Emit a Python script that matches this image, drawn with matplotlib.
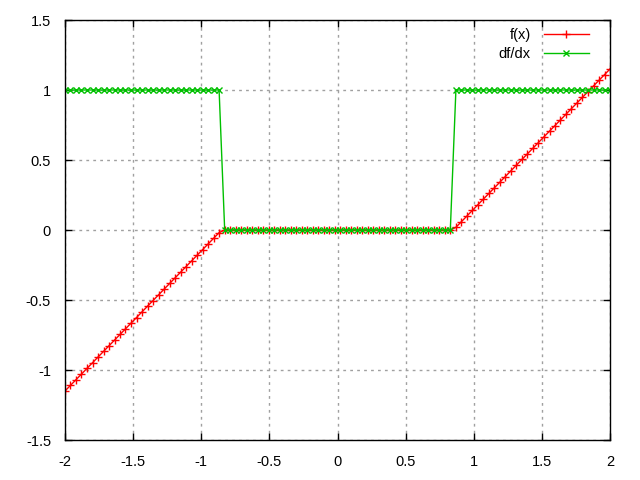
import matplotlib
matplotlib.use("Agg")
import matplotlib.pyplot as plt

x = [-2.000, -1.960, -1.919, -1.879, -1.838, -1.798, -1.758, -1.717, -1.677, -1.636,
     -1.596, -1.556, -1.515, -1.475, -1.434, -1.394, -1.354, -1.313, -1.273, -1.232,
     -1.192, -1.152, -1.111, -1.071, -1.030, -0.990, -0.949, -0.909, -0.869, -0.828,
     -0.788, -0.747, -0.707, -0.667, -0.626, -0.586, -0.545, -0.505, -0.465, -0.424,
     -0.384, -0.343, -0.303, -0.263, -0.222, -0.182, -0.141, -0.101, -0.061, -0.020,
     0.020, 0.061, 0.101, 0.141, 0.182, 0.222, 0.263, 0.303, 0.343, 0.384,
     0.424, 0.465, 0.505, 0.545, 0.586, 0.626, 0.667, 0.707, 0.747, 0.788,
     0.828, 0.869, 0.909, 0.949, 0.990, 1.030, 1.071, 1.111, 1.152, 1.192,
     1.232, 1.273, 1.313, 1.354, 1.394, 1.434, 1.475, 1.515, 1.556, 1.596,
     1.636, 1.677, 1.717, 1.758, 1.798, 1.838, 1.879, 1.919, 1.960, 2.000]

f = [-1.150, -1.110, -1.069, -1.029, -0.988, -0.948, -0.908, -0.867, -0.827, -0.786,
     -0.746, -0.706, -0.665, -0.625, -0.584, -0.544, -0.504, -0.463, -0.423, -0.382,
     -0.342, -0.302, -0.261, -0.221, -0.180, -0.140, -0.099, -0.059, -0.019, 0.0,
     0.0, 0.0, 0.0, 0.0, 0.0, 0.0, 0.0, 0.0, 0.0, 0.0,
     0.0, 0.0, 0.0, 0.0, 0.0, 0.0, 0.0, 0.0, 0.0, 0.0,
     0.0, 0.0, 0.0, 0.0, 0.0, 0.0, 0.0, 0.0, 0.0, 0.0,
     0.0, 0.0, 0.0, 0.0, 0.0, 0.0, 0.0, 0.0, 0.0, 0.0,
     0.0, 0.019, 0.059, 0.099, 0.140, 0.180, 0.221, 0.261, 0.302, 0.342,
     0.382, 0.423, 0.463, 0.504, 0.544, 0.584, 0.625, 0.665, 0.706, 0.746,
     0.786, 0.827, 0.867, 0.908, 0.948, 0.988, 1.029, 1.069, 1.110, 1.150]

dfdx = [1, 1, 1, 1, 1, 1, 1, 1, 1, 1,
        1, 1, 1, 1, 1, 1, 1, 1, 1, 1,
        1, 1, 1, 1, 1, 1, 1, 1, 1, 0,
        0, 0, 0, 0, 0, 0, 0, 0, 0, 0,
        0, 0, 0, 0, 0, 0, 0, 0, 0, 0,
        0, 0, 0, 0, 0, 0, 0, 0, 0, 0,
        0, 0, 0, 0, 0, 0, 0, 0, 0, 0,
        0, 1, 1, 1, 1, 1, 1, 1, 1, 1,
        1, 1, 1, 1, 1, 1, 1, 1, 1, 1,
        1, 1, 1, 1, 1, 1, 1, 1, 1, 1]

labels = ["f(x)", "df/dx"]
xticks = [-2, -1.5, -1, -0.5, 0, 0.5, 1, 1.5, 2]
yticks = [-1.5, -1, -0.5, 0, 0.5, 1, 1.5]

plt.rcParams['font.family'] = ['Liberation Sans', 'DejaVu Sans']

fig = plt.figure(figsize=(6.4, 4.8), dpi=100)
ax = fig.add_axes([65/640, 40/480, 545/640, 420/480])

ax.plot(x, f, color='#ff0000', lw=1, marker='+', ms=6, mew=1, label=labels[0])
ax.plot(x, dfdx, color='#00c000', lw=1, marker='x', ms=4.5, mew=1, label=labels[1])

ax.set_xlim(-2, 2)
ax.set_ylim(-1.5, 1.5)
ax.set_xticks(xticks)
ax.set_yticks(yticks)
ax.set_xticklabels([f"{t:g}" for t in xticks])
ax.set_yticklabels([f"{t:g}" for t in yticks])
ax.tick_params(direction='in', length=5, width=1, top=True, right=True,
               labelsize=10.5)
ax.tick_params(axis='x', pad=11)
ax.tick_params(axis='y', pad=10)
ax.grid(True, color='#a0a0a0', linestyle=(0, (2, 3)), lw=1)
for s in ax.spines.values():
    s.set_linewidth(1)
    s.set_color('black')

leg = ax.legend(loc='upper right', bbox_to_anchor=(592/640, 455/480),
                bbox_transform=fig.transFigure, frameon=False, markerfirst=False,
                fontsize=10.5, handlelength=3.1, handletextpad=0.9,
                borderaxespad=0.0, borderpad=0.2, labelspacing=0.35)
for t in leg.get_texts():
    t.set_ha('right')

fig.savefig("out.png", dpi=100)
